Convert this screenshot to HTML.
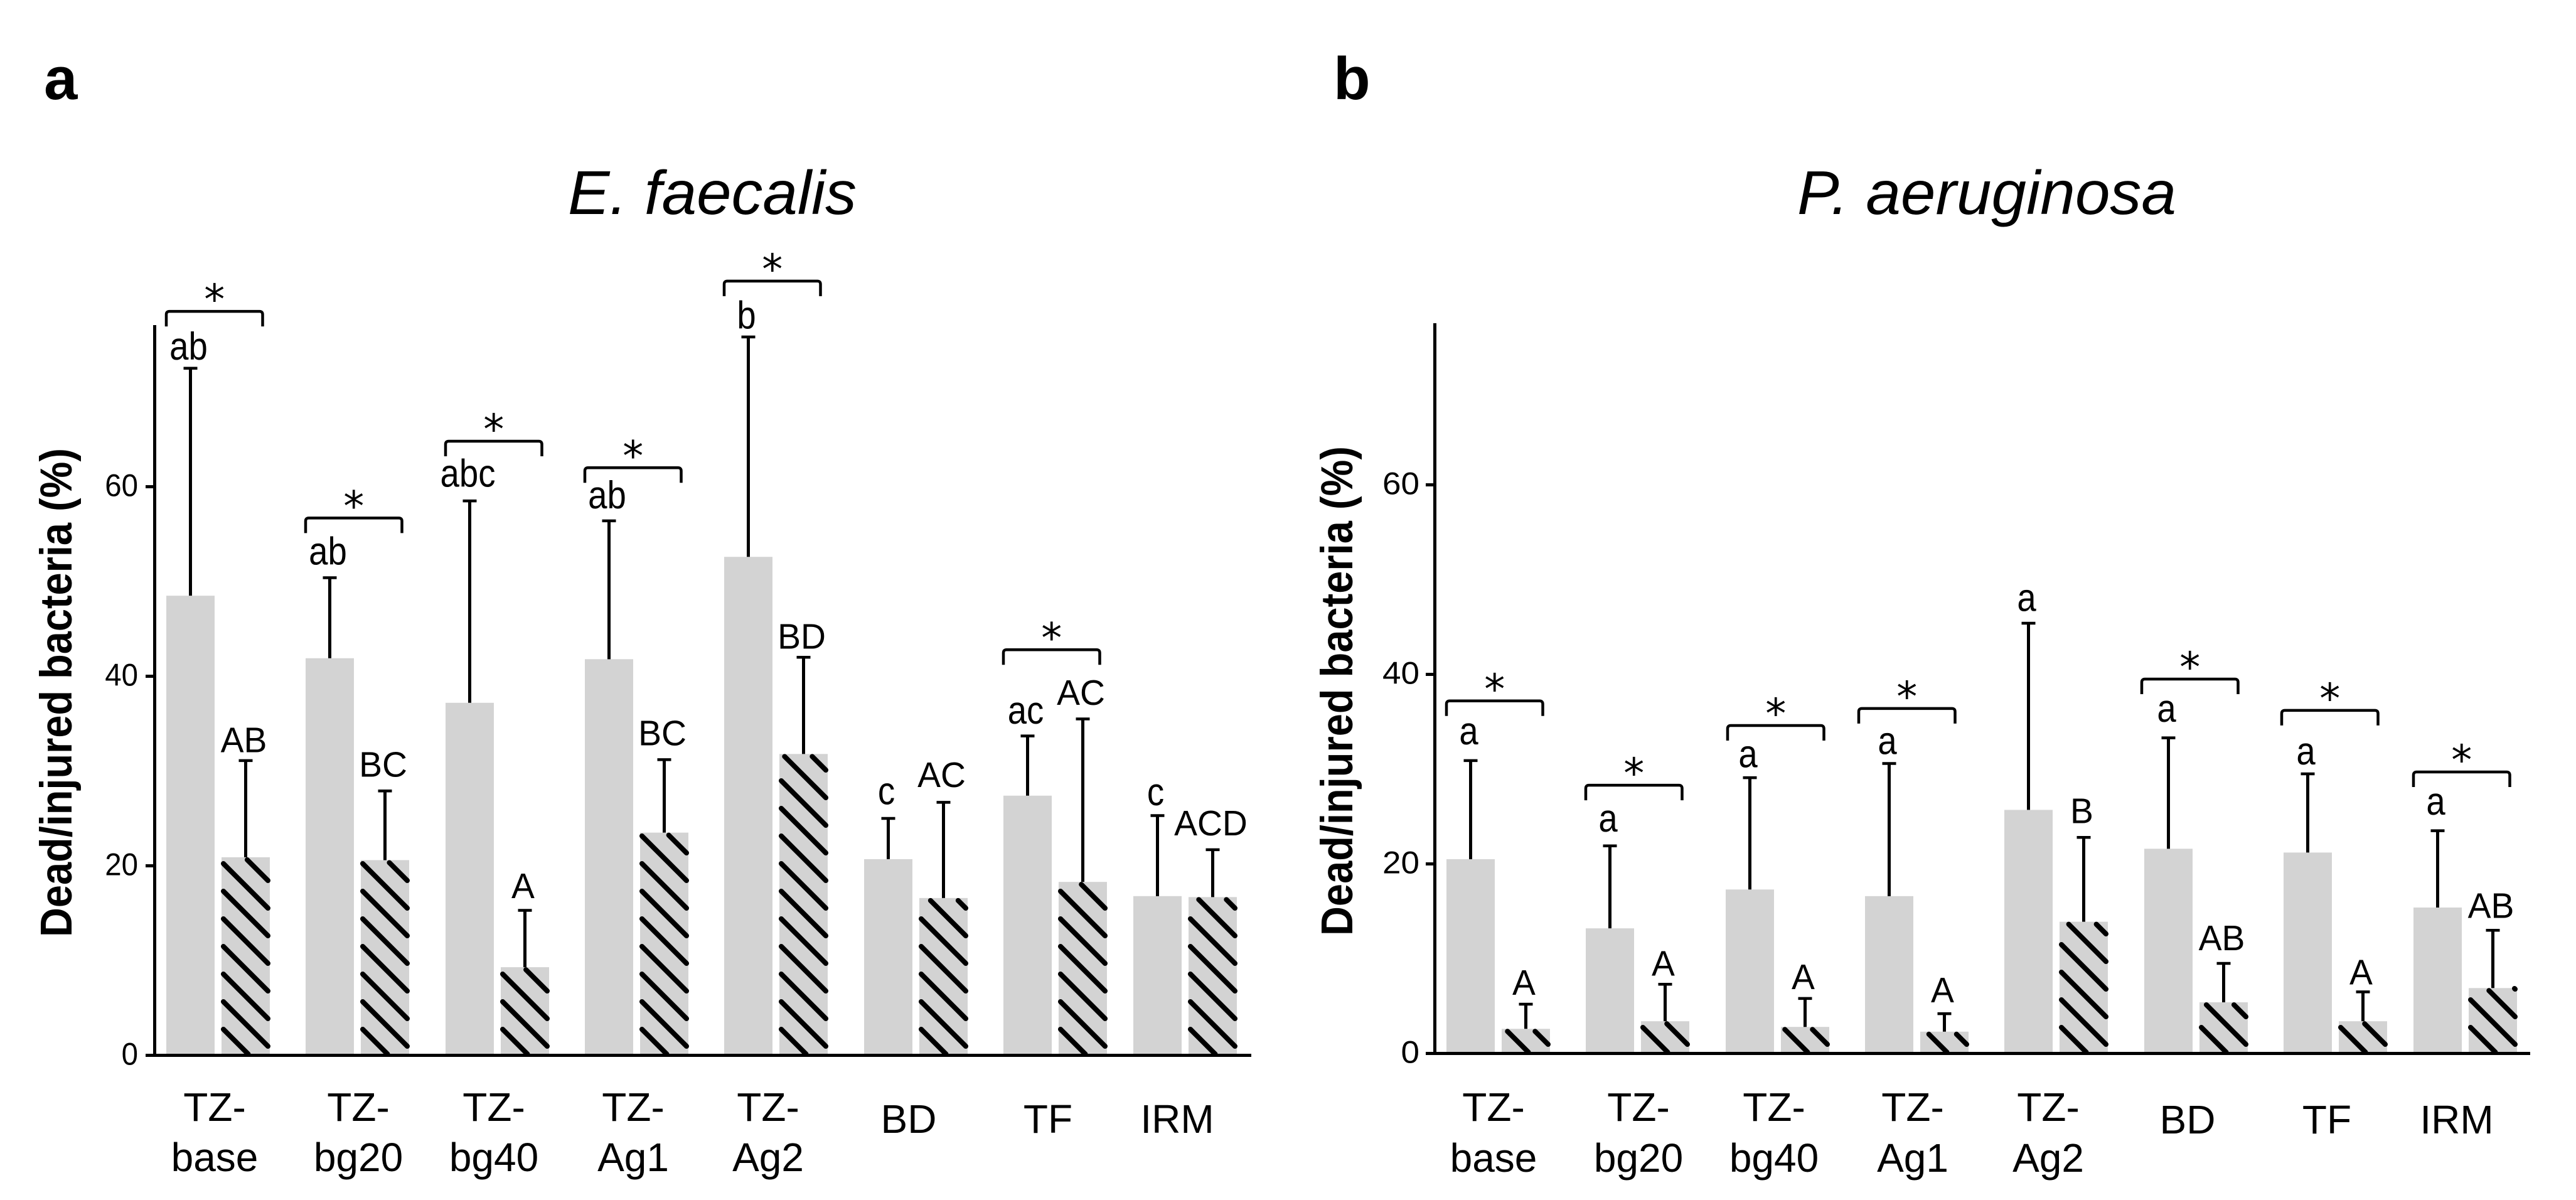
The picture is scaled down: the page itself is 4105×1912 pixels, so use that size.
<!DOCTYPE html>
<html lang="en">
<head>
<meta charset="utf-8">
<title>Dead/injured bacteria: E. faecalis and P. aeruginosa</title>
<style>
html,body{margin:0;padding:0;background:#fff;width:4105px;height:1912px;overflow:hidden}
svg{display:block}
text{font-family:"Liberation Sans",sans-serif;fill:#000}
.cat{font-size:64px;text-anchor:middle}
.panel{font-size:96px;font-weight:bold}
.title{font-size:98px;font-style:italic}
.ytitle{font-size:71px;font-weight:bold}
</style>
</head>
<body>
<svg id="figure" xmlns="http://www.w3.org/2000/svg" width="4105" height="1912" viewBox="0 0 4105 1912">
  <rect x="0" y="0" width="4105" height="1912" fill="#fff"/>
  <text class="panel" x="70" y="158">a</text>
  <text class="panel" x="2125" y="158">b</text>
  <text class="title" x="905" y="341" textLength="460" lengthAdjust="spacingAndGlyphs">E. faecalis</text>
  <text class="title" x="2864" y="341" textLength="604" lengthAdjust="spacingAndGlyphs">P. aeruginosa</text>
  <text class="ytitle" transform="translate(114 1493) rotate(-90)" textLength="779" lengthAdjust="spacingAndGlyphs">Dead/injured bacteria (%)</text>
  <text class="ytitle" transform="translate(2155 1491) rotate(-90)" textLength="780" lengthAdjust="spacingAndGlyphs">Dead/injured bacteria (%)</text>

  <g>
    <text class="cat" x="342" y="1786">TZ-</text>
    <text class="cat" x="342" y="1866">base</text>
    <text class="cat" x="571" y="1786">TZ-</text>
    <text class="cat" x="571" y="1866">bg20</text>
    <text class="cat" x="787" y="1786">TZ-</text>
    <text class="cat" x="787" y="1866">bg40</text>
    <text class="cat" x="1009" y="1786">TZ-</text>
    <text class="cat" x="1009" y="1866">Ag1</text>
    <text class="cat" x="1224" y="1786">TZ-</text>
    <text class="cat" x="1224" y="1866">Ag2</text>
    <text class="cat" x="1448" y="1805">BD</text>
    <text class="cat" x="1670" y="1805">TF</text>
    <text class="cat" x="1876" y="1805">IRM</text>
  </g>
  <g>
    <text class="cat" x="2380" y="1786">TZ-</text>
    <text class="cat" x="2380" y="1867">base</text>
    <text class="cat" x="2611" y="1786">TZ-</text>
    <text class="cat" x="2611" y="1867">bg20</text>
    <text class="cat" x="2827" y="1786">TZ-</text>
    <text class="cat" x="2827" y="1867">bg40</text>
    <text class="cat" x="3048" y="1786">TZ-</text>
    <text class="cat" x="3048" y="1867">Ag1</text>
    <text class="cat" x="3264" y="1786">TZ-</text>
    <text class="cat" x="3264" y="1867">Ag2</text>
    <text class="cat" x="3486" y="1806">BD</text>
    <text class="cat" x="3708" y="1806">TF</text>
    <text class="cat" x="3915" y="1806">IRM</text>
  </g>
</svg>
<script>
// Shared axis data
const categories = ['TZ-base','TZ-bg20','TZ-bg40','TZ-Ag1','TZ-Ag2','BD','TF','IRM'];
const yTicks = [0,20,40,60];

// Panel a: E. faecalis (values in %)
const solidMeanA = [48.5,41.9,37.2,41.8,52.6,20.7,27.4,16.8];
const solidErrA  = [72.5,50.4,58.5,56.4,75.8,25.0,33.7,25.3];
const hatchMeanA = [20.9,20.6,9.3,23.5,31.8,16.6,18.3,16.7];
const hatchErrA  = [31.1,27.9,15.3,31.2,42.0,26.7,35.5,21.7];
const solidLetterA = ['ab','ab','abc','ab','b','c','ac','c'];
const hatchLetterA = ['AB','BC','A','BC','BD','AC','AC','ACD'];
const solidLiftA = [0.9,1.4,1.5,1.3,0.9,1.5,1.3,1.1];
const hatchLiftA = [0.9,1.5,1.3,1.5,0.9,1.6,1.5,1.5];
const bracketLevelA = [78.5,56.7,64.8,62.0,81.7,null,42.8,null];

// Panel b: P. aeruginosa (values in %)
const solidMeanB = [20.5,13.2,17.3,16.6,25.7,21.6,21.2,15.4];
const solidErrB  = [30.9,21.9,29.1,30.6,45.4,33.3,29.5,23.5];
const hatchMeanB = [2.6,3.4,2.8,2.3,13.9,5.4,3.4,6.9];
const hatchErrB  = [5.2,7.3,5.8,4.2,22.8,9.5,6.5,13.0];
const solidLetterB = ['a','a','a','a','a','a','a','a'];
const hatchLetterB = ['A','A','A','A','B','AB','A','AB'];
const solidLiftB = [1.7,1.5,1.1,1.0,1.3,1.7,1.0,1.7];
const hatchLiftB = [1.0,0.9,1.0,1.2,1.5,1.4,0.8,1.3];
const bracketLevelB = [37.2,28.3,34.6,36.4,null,39.5,36.2,29.7];

const panelA = {id:'a',baseline:1681.5,unit:15.1,axisX:246.5,axisTop:518,axisEnd:1994,firstBand:265,tickLabelRight:220,tickScale:0.95,
  bracketShift:{},
  solidMean:solidMeanA,solidErr:solidErrA,hatchMean:hatchMeanA,hatchErr:hatchErrA,
  solidLetter:solidLetterA,hatchLetter:hatchLetterA,solidLift:solidLiftA,hatchLift:hatchLiftA,bracketLevel:bracketLevelA};
const panelB = {id:'b',baseline:1678.5,unit:15.1,axisX:2286.5,axisTop:515,axisEnd:4032,firstBand:2305,tickLabelRight:2262,tickScale:1.06,
  bracketShift:{2:3,3:-10,5:-4,6:-3},
  solidMean:solidMeanB,solidErr:solidErrB,hatchMean:hatchMeanB,hatchErr:hatchErrB,
  solidLetter:solidLetterB,hatchLetter:hatchLetterB,solidLift:solidLiftB,hatchLift:hatchLiftB,bracketLevel:bracketLevelB};

const NS = 'http://www.w3.org/2000/svg';
const BAR_W = 77, HATCH_OFFSET = 88, BAND_STEP = 222.3, LAST_STEP = 207.2;
const fig = document.getElementById('figure');

function make(parent, tag, attrs, text){
  const el = document.createElementNS(NS, tag);
  for (const k in attrs) el.setAttribute(k, attrs[k]);
  if (text !== undefined) el.textContent = text;
  parent.appendChild(el);
  return el;
}
function fit(el, k){
  el.setAttribute('textLength', (el.getComputedTextLength() * k).toFixed(1));
  el.setAttribute('lengthAdjust', 'spacingAndGlyphs');
}
function slug(s){ return s.toLowerCase(); }

function drawPanel(p){
  const y = v => p.baseline - v * p.unit;
  const band = i => Math.round(p.firstBand + BAND_STEP * Math.min(i, 6) + (i > 6 ? LAST_STEP : 0));

  const g = make(fig, 'g', {});
  
  

  categories.forEach((cat, i) => {
    const cg = make(g, 'g', {});
    
    

    // Solid bar
    const sx = band(i);
    const solid = make(cg, 'rect', {x:sx, y:y(p.solidMean[i]), width:BAR_W, height:p.baseline - y(p.solidMean[i]), fill:'#d3d3d3'});
    
    

    // Hatched bar
    const hx = sx + HATCH_OFFSET;
    const hTop = y(p.hatchMean[i]);
    const hatched = make(cg, 'rect', {x:hx, y:hTop, width:BAR_W, height:p.baseline - hTop, fill:'#d3d3d3'});
    
    

    // Diagonal hatch strokes, anchored to the baseline and cut at the bar top
    const hatchG = make(cg, 'g', {stroke:'#000','stroke-width':8,'stroke-linecap':'round',fill:'none'});
    
    
    for (let k = 1; k < 40; k++) {
      const y0 = p.baseline + 2.5 - 44 * k;
      const yEnd = Math.min(y0 + 71, p.baseline - 2);
      if (y0 + 71 < hTop) break;
      let yStart = Math.max(y0, hTop + 4);
      if (yStart > yEnd - 1) yStart = yEnd - 1;
      const xStart = hx + 3 + (yStart - y0);
      const xEnd = hx + 3 + (yEnd - y0);
      make(hatchG, 'line', {x1:xStart, y1:yStart, x2:xEnd, y2:yEnd});
    }

    // Error bars
    [[sx, p.solidMean[i], p.solidErr[i], 'solid'], [hx, p.hatchMean[i], p.hatchErr[i], 'hatched']].forEach(s => {
      const cx = s[0] + BAR_W / 2;
      const eg = make(cg, 'g', {stroke:'#000',fill:'none'});
      
      
      make(eg, 'line', {x1:cx, x2:cx, y1:y(s[1]), y2:y(s[2]), 'stroke-width':5});
      make(eg, 'line', {x1:cx - 11, x2:cx + 11, y1:y(s[2]), y2:y(s[2]), 'stroke-width':4.5});
    });

    // Letters above the error bars
    const l1 = make(cg, 'text', {x:sx + BAR_W / 2 - 3, y:y(p.solidErr[i] + p.solidLift[i]), 'text-anchor':'middle', 'font-size':62}, p.solidLetter[i]);
    
    
    fit(l1, 0.88);
    const l2 = make(cg, 'text', {x:hx + BAR_W / 2 - 3, y:y(p.hatchErr[i] + p.hatchLift[i]), 'text-anchor':'middle', 'font-size':57}, p.hatchLetter[i]);
    
    
    fit(l2, 0.97);

    // Significance bracket
    const level = p.bracketLevel[i];
    if (level !== null) {
      const xl = sx + (p.bracketShift[i] || 0), xr = xl + 153.5, yt = y(level), yb = yt + 24;
      const br = make(cg, 'path', {d:`M${xl} ${yb}V${yt + 5}Q${xl} ${yt} ${xl + 5} ${yt}H${xr - 5}Q${xr} ${yt} ${xr} ${yt + 5}V${yb}`, fill:'none', stroke:'#000', 'stroke-width':4.5});
      
      
      const st = make(cg, 'text', {x:(xl + xr) / 2, y:yt - 30 + 0.516 * 66, 'text-anchor':'middle', 'font-size':66, style:'font-family:"DejaVu Sans",sans-serif'}, '*');
      
      
    }
  });

  // Axes on top of the bars
  const yAxis = make(g, 'line', {x1:p.axisX, x2:p.axisX, y1:p.axisTop, y2:p.baseline + 2.5, stroke:'#000', 'stroke-width':5});
  
  
  const xAxis = make(g, 'line', {x1:p.axisX - 14.5, x2:p.axisEnd, y1:p.baseline, y2:p.baseline, stroke:'#000', 'stroke-width':5});
  
  

  yTicks.forEach(t => {
    const tick = make(g, 'line', {x1:p.axisX - 14.5, x2:p.axisX, y1:y(t), y2:y(t), stroke:'#000', 'stroke-width':5});
    
    
    const lab = make(g, 'text', {x:p.tickLabelRight, y:y(t) + 15, 'text-anchor':'end', 'font-size':50}, String(t));
    
    
    fit(lab, p.tickScale);
  });
}
drawPanel(panelA);
drawPanel(panelB);
</script>
</body>
</html>
